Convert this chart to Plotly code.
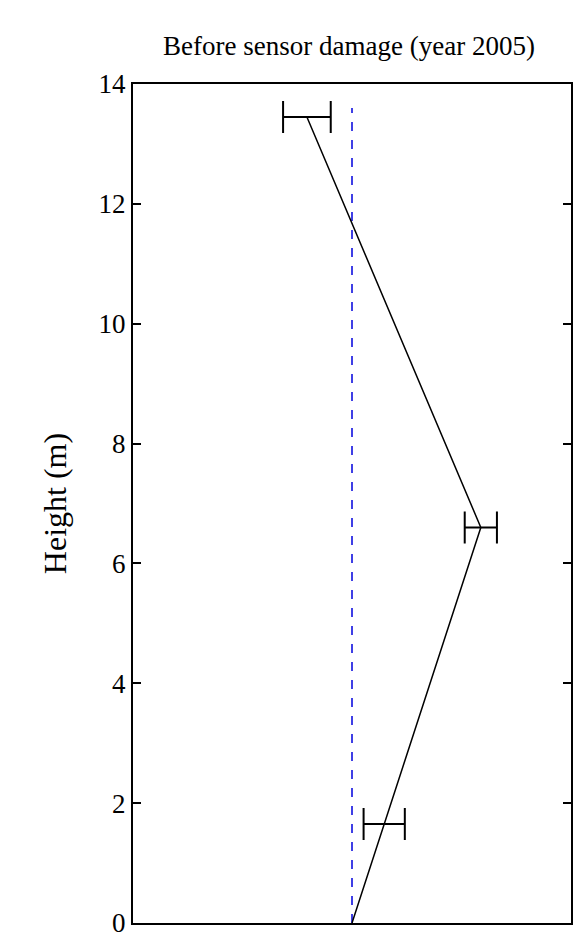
import plotly.graph_objects as go

heights = [0.0, 1.65, 6.6, 13.45]
values = [0.0, 0.05, 0.2, -0.07]
err_heights = [1.65, 6.6, 13.45]
err_values = [0.05, 0.2, -0.07]
err_half = [0.032, 0.025, 0.037]
ref_x = [0.0, 0.0]
ref_y = [0.0, 13.6]
y_ticks = [0, 2, 4, 6, 8, 10, 12, 14]

fig = go.Figure()
fig.add_trace(go.Scatter(x=ref_x, y=ref_y, mode="lines",
                         line=dict(color="#0000dd", dash="dash", width=1.5), showlegend=False))
fig.add_trace(go.Scatter(x=values, y=heights, mode="lines",
                         line=dict(color="black", width=1.5), showlegend=False))
fig.add_trace(go.Scatter(x=err_values, y=err_heights, mode="markers",
                         marker=dict(size=1, color="black"),
                         error_x=dict(type="data", array=err_half, color="black", thickness=2, width=16),
                         showlegend=False))
fig.update_layout(
    width=588, height=948, plot_bgcolor="white", paper_bgcolor="white",
    margin=dict(l=125, r=25, t=76, b=33),
    font=dict(family="Liberation Serif", size=27, color="black"),
    title=dict(text="Before sensor damage (year 2005)", x=0.58, xanchor="center", y=0.96, yanchor="middle",
               font=dict(size=27)),
)
fig.update_xaxes(range=[-0.34, 0.34], showticklabels=False, ticks="", showgrid=False, zeroline=False,
                 showline=True, mirror=True, linecolor="black", linewidth=2)
fig.update_yaxes(range=[0, 14], tickvals=y_ticks, ticks="inside", ticklen=8, tickwidth=1.5, tickcolor="black",
                 tickfont=dict(size=27),
                 showgrid=False, zeroline=False, showline=True, mirror="ticks", linecolor="black", linewidth=2,
                 title=dict(text="Height (m)", standoff=22))
fig.write_html("out.html")
